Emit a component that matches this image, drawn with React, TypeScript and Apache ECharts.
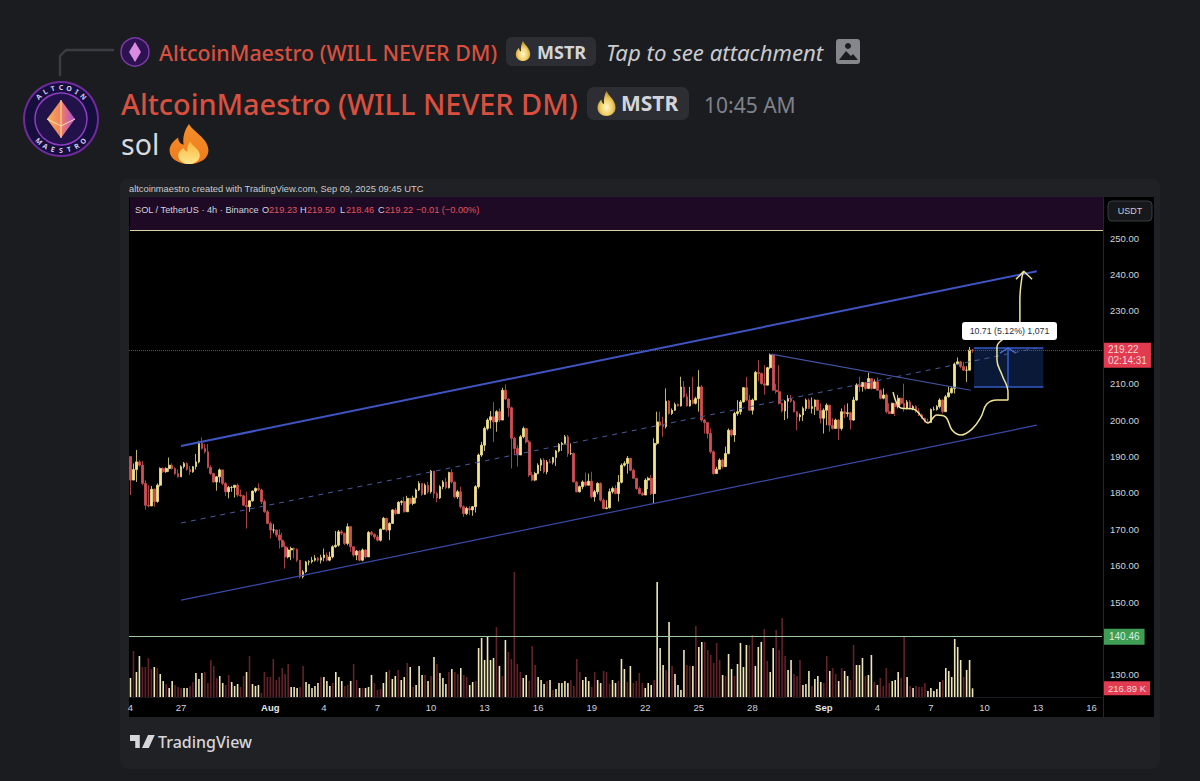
import React, { useEffect, useRef } from "react";
import * as echarts from "echarts";

// Closes (USDT), 4h candles, first candle Jul 24 04:00
const closes = [183.5,186.4,188.5,187.6,182.6,176.6,176.4,181,177.6,182.1,186.7,185.8,186.7,187.6,186.7,185.3,184.4,187.2,188.1,186.4,185.8,187.2,188.5,193.6,192.2,191.3,187,185.3,183,184.4,186.3,182.6,180.3,181.5,181.5,182.1,179.4,179.2,176.6,176.2,177.8,180.5,181.2,180.8,177.6,174.8,171.6,169.8,169.8,168.4,167,165.2,162.4,164.3,164.7,164.5,161.5,157,158.3,161,
161.1,161.5,162,161.5,162.2,162.9,161.5,162.4,165.2,165.6,169.3,168.9,166.1,170.7,165.2,162.9,164,161.5,164.3,162.4,169.1,168.6,167.9,167,170,173,169.8,171.6,175.3,174.3,177.4,177.6,174.8,178.5,177.1,178.6,180.8,182.6,179.6,182.1,180.3,186,179.8,178.6,181.7,183,181.4,185.6,183,178.9,180.3,176.2,174.3,175.7,175.3,176.2,181.7,190.4,193.1,197.7,
200,200.9,199.5,202.3,200,208.2,205.8,203.4,195,192.2,190.4,195.4,197.7,194,184.9,183.5,185.3,187.6,189,185.8,188.5,188.4,189.7,191.5,193.3,193.6,195.4,190.8,190.8,183,180.3,181.7,183,182.1,183.2,178.9,180.3,182.6,178,175.7,175.9,180.3,181.2,179.8,182.9,187.6,188.1,189.5,186.2,184,181.2,179.8,179.4,183.5,184,179.8,193.6,199.5,
198.6,198.2,205.2,201.8,202.7,204.3,203.9,209.1,206.4,203.9,205.5,204.6,205.9,209.1,200,199.3,196.3,191.3,185.3,186.5,189,187.2,190.8,197.2,195.9,201.8,202.3,205,208.9,205.5,202.7,205.5,213.1,212.8,210,209.6,214.4,217.9,208.2,207.8,204.6,202.5,205.2,205.9,205.2,202.3,200.9,201.4,203.2,205.5,203.2,
203.7,205.5,202.7,200.5,202.7,204.1,198.6,197.7,200,197.7,202.3,201.8,202,200,205.5,209.6,209.2,210.3,208.7,211.4,208.7,210.5,208.2,206,206.9,202.3,201.8,204.6,203.7,206,204.6,203.2,205,203.2,203.7,202.3,201.4,200.5,199.5,199.3,202.9,202.9,203.7,205.5,202.3,206.4,207.5,208.7,215.4,216,214.7,213.7,213.7,219.23,219.22];

const highs = [190,188.1,191.8,189,188.8,183.5,182.1,181.9,181.2,182.6,187,187,187,189.7,188.1,187,186.4,187.6,188.5,188.4,187.4,187.4,190.7,194.3,195.2,193.4,193.4,187.6,185.5,184.6,186.7,186.4,183,181.9,181.9,182.1,182.6,180.9,179.4,180.3,178,180.6,181.5,182.6,181.2,178.2,175.3,172.1,171.4,169.8,170,169,166.6,165,165.2,165,164.7,161.5,158.8,161.3,
161.5,162.4,162.9,162.4,163,164.7,163.6,163.8,165.6,169.5,169.8,169.8,169.1,171.6,170.9,165.2,164.3,164.3,164.7,164.5,169.5,169.5,168.9,168.4,170.2,173.4,173.2,171.9,175.5,175.9,177.7,178,178.9,179.2,178.6,179.2,181.2,183.2,182.3,182.6,183,186.3,185.8,180.3,182.1,183.5,184.1,185.8,186.5,183,180.8,181.7,176.6,176.2,176.4,176.4,182.1,190.8,194,198.2,
200.5,202.5,205,202.7,203.2,208.9,209.8,205.9,203.7,195.4,193.1,195.9,198.2,197.2,194.5,185.8,185.8,188.1,189.5,189.5,189,189.3,189.9,191.8,193.7,194,195.9,195.9,193.6,191.1,183.2,182,183.4,185.6,185.3,185.8,180.8,182.9,182.9,178.5,178,181.2,181.7,182.1,184.9,188.1,188.7,190.1,188.4,186.7,184,181.7,180.3,184,184.4,184.9,195,202.3,
202.3,200.9,208.7,205.5,203.2,204.8,204.6,211.9,210.7,207.3,209.1,211.9,206.4,213.7,209.6,200.3,199.3,197.7,191.7,187.2,189.5,189.3,192.7,197.7,197.5,202.3,205.5,205.5,209.1,211.9,206.9,205.9,213.5,216.5,213.1,215.1,214.6,218.3,218,210,215.1,204.8,205.5,206.9,206.9,205.5,202.5,201.8,203.7,205.9,205.9,
206.2,205.7,205.5,204.6,203.2,204.6,202.9,200.5,200.4,200.2,203.2,204.1,204.6,202.3,206.4,210.1,211.9,210.5,210.3,213,211.4,211.2,211.7,208.4,208.7,207.3,204.6,204.8,204.1,206.9,206.2,210,205.5,205.5,204.1,204.1,203.2,201.8,200.7,200.4,203.2,203.7,204.1,206,205.7,206.9,209.2,209.2,215.8,217.2,216.3,216,214.8,220.1,219.5];

const lows = [179.4,183.5,183,187.2,182.1,175.4,176,176.6,176.2,177.3,181.7,185.5,185.5,185.8,186.4,184.9,184.2,184.4,186.7,186.1,184.9,185.5,186.4,188.1,191.9,190.8,186.7,184.9,182.8,180.6,182.8,182.1,179.1,178.5,180.3,178.7,178.9,178.9,176.4,170.2,174.8,177.6,180,180.5,176.9,174.5,171.4,167.5,168.9,167.8,164.7,165,159.2,162,161.5,162,161,156.5,156.5,158,
160.1,160.6,161.1,161.1,160.6,161.2,161.2,161.2,162,164.9,165.2,168.4,165.6,165.6,163.8,162.4,161.5,161.2,161.2,162,162.4,168.2,167.3,166.6,166.6,169.8,169.3,167,171.6,173.9,174.3,176.6,174.6,174.8,176.6,176.6,177.1,180.5,179.2,179.4,179.8,179.8,178.5,177.4,178.3,181,181,181.2,182.6,178.5,178.3,175.7,173.4,173.9,173.9,173.7,174.6,181.2,189.9,191.5,
197.2,197.7,194,196.8,199.5,200.9,205.5,200.9,186.7,190.4,187.2,192,195,193.6,184.4,183.2,183.2,185.1,186,185.3,185.1,188.1,187.8,187.4,191.1,191.5,193.3,189.9,190.4,182.9,180.1,180.1,181,181.7,182,178.5,177.6,179.6,177.6,175.5,175.5,175.7,179.8,179.6,177.6,182.6,187.2,185.3,186,183.8,180.8,179.6,179.2,179.6,181,179.4,177.1,193.1,
198.2,195.4,197.7,201.5,201.4,202.5,203.7,203.7,206.1,203.7,203.7,204.3,204.3,202.3,199.5,196.3,195,190.8,185,186.2,186.5,186.7,187.2,190.6,195.4,194,201.2,201.5,204.8,205.2,202.5,201.5,207.8,210.7,209.8,207,209.8,214,208,207.3,204.3,202.1,200,200.4,204.8,202.1,197.2,199.7,199.7,202.5,203,
201.8,201.4,202.6,199.1,196.3,198.6,196.8,197.4,197.7,194.5,197.1,200.5,200.9,197.4,199.8,205.3,207.8,207.8,208.2,208.5,208.4,208.5,208.1,205.7,205.7,201.8,201.6,201.8,201.1,203.2,204.1,202.3,202.9,202.9,202.7,202,201.1,200.2,199.3,199.1,199.3,202.6,202.6,203.2,201.8,202.3,206.2,207.3,207.3,215.1,214.2,213.5,210.5,213.7,218.46];

const firstOpen = 190;

// Volume in thousands; a negative number marks a down bar
const signedVolumes = [475,-1150,625,1025,-750,-750,-975,-700,750,-725,575,400,-325,225,400,-300,-250,-225,225,225,-275,-375,600,450,600,-625,-350,-925,-775,-475,525,350,-300,-550,375,275,325,-250,-525,625,-1025,325,275,300,-100,-625,-500,-500,-950,-425,-500,-725,-575,-825,250,250,225,-250,-775,375,325,225,275,350,-500,500,400,275,-350,625,500,400,-275,-300,400,-825,-425,225,-225,225,250,550,-350,-175,-200,350,625,-675,450,525,-675,425,500,-850,750,-250,300,775,550,-550,400,-525,1000,-825,600,475,325,-625,700,-625,-575,725,-550,-500,300,375,-400,1225,1475,925,1525,925,975,-1750,775,-525,1425,-1125,-950,-3125,-825,-625,475,550,-400,-1275,-800,500,425,325,-400,425,-175,200,
350,350,400,350,-425,-275,-950,-625,425,500,400,-250,-625,425,350,-650,-625,-325,425,350,-400,950,700,-375,775,-350,-400,-600,-350,225,350,300,-425,2875,1225,800,-675,1875,-775,575,300,175,1175,-800,-775,775,-1775,1250,1375,-1375,-1175,-1050,-850,-1350,-925,550,-525,1075,700,-525,825,1350,750,1300,-1300,-1550,775,1250,1375,-1700,-900,625,1225,-1675,-1175,-1975,-1025,675,925,-575,-525,-925,300,325,650,-275,450,525,375,-350,-1025,650,-725,-575,400,-725,650,525,-425,-1300,800,800,975,-525,550,1050,-375,300,-475,-275,-725,-350,400,425,625,-475,-1500,500,-275,225,-275,-250,-250,-350,150,225,150,200,375,-425,725,650,500,1450,1250,925,-500,675,925,217];

const priceTicks = [130,150,160,170,180,190,200,210,230,240,250];
const dateLabels: Record<number,string> = {0:"4",17:"27",47:"Aug",65:"4",83:"7",101:"10",119:"13",137:"16",155:"19",173:"22",191:"25",209:"28",233:"Sep",251:"4",269:"7",287:"10",305:"13",323:"16"};
const categories = Array.from({length:327},(_,i)=>String(i));

// Drawings, as [candle index, price]
const channelUpper = [[17,192.9],[304.6,240.9]];
const channelLower = [[17,150.5],[304.6,198.6]];
const channelMiddle = [[17,171.7],[304.6,219.8]];
const downtrend = [[215.3,218.1],[282.4,208.2]];
const handCurve = [[256.3,207.7],[258.9,203.3],[263.3,203],[266,200.8],[268,199.2],[271,201.4],[274,200.8],[276.1,197.3],[279.1,195.9],[282.8,197.5],[285.8,200.8],[287.8,204.4],[291.2,205.5],[294.9,205.5],[294.9,207.7],[292.9,212.4],[291.2,216.5],[291.2,220.1],[293.5,222.5],[298.9,226.9],[298.9,233],[299.6,239.3],[300.2,240.9]];
const handArrow = [[297.6,238.7],[300.2,240.9],[303,238.7]];
const measureTop = 219.81, measureBottom = 209.1, measureLeft = 283.5, measureRight = 306.8, measureMid = 294.9;
const measureArrow = [[292.2,218.4],[measureMid,219.81],[297.6,218.4]];
const lastPrice = 219.22, alertPrice = 140.46, lastVolume = 216.89;

const FLAME = "M50 0C58 20 86 36 86 66C86 88 68 100 50 100C32 100 14 88 14 66C14 52 22 42 30 34C30 44 34 50 40 52C38 32 42 14 50 0Z";
const FLAME_IN = "M52 44C58 58 70 64 70 78C70 92 60 100 50 100C40 100 30 92 30 78C30 70 36 64 40 60C42 66 44 68 47 69C46 60 48 52 52 44Z";
const TV = "M0 0H13V13H7V6H0ZM24 0H33L25 13H16Z";
echarts.graphic.registerShape("flameOuter", echarts.graphic.extendPath(FLAME, {}));
echarts.graphic.registerShape("flameInner", echarts.graphic.extendPath(FLAME_IN, {}));
echarts.graphic.registerShape("tvMark", echarts.graphic.extendPath(TV, {}));

const FONT = "'Noto Sans', sans-serif";
const TVF = "'Liberation Sans', sans-serif";
const UP = "#f3e48e", DOWN = "#cf5156";

const gold = () => new echarts.graphic.RadialGradient(0.5,0.65,0.6,[{offset:0,color:"#fff6d0"},{offset:0.5,color:"#f4d36a"},{offset:1,color:"#b9902f"}]);
const fire = () => new echarts.graphic.LinearGradient(0,0,0,1,[{offset:0,color:"#f2902c"},{offset:1,color:"#f07a1c"}]);
const fireIn = () => new echarts.graphic.LinearGradient(0,0,0,1,[{offset:0,color:"#f9b640"},{offset:1,color:"#fde68a"}]);

function txt(x:number,y:number,text:string,fontSize:number,fill:string,extra:any={}){
  return {type:"text",x,y,z:extra.z??3,style:{text,fontSize,fill,fontFamily:FONT,textVerticalAlign:"middle",verticalAlign:"middle",...extra}};
}
function rect(x:number,y:number,width:number,height:number,fill:string,r=0,z=1,extra:any={}){
  return {type:"rect",z,shape:{x,y,width,height,r},style:{fill,...extra}};
}

function avatarLetters(cx:number,cy:number,rad:number,word:string,startDeg:number,stepDeg:number,flip:boolean){
  return word.split("").map((ch,i)=>{
    const a=(startDeg+i*stepDeg)*Math.PI/180;
    return {type:"text",z:5,x:cx+rad*Math.cos(a),y:cy+rad*Math.sin(a),rotation:-(a+(flip?-Math.PI/2:Math.PI/2)),
      style:{text:ch,fontSize:7,fontWeight:700,fill:"#d9c6ee",fontFamily:FONT,align:"center",verticalAlign:"middle"}};
  });
}

const chrome:any[] = [
  rect(0,0,1200,781,"#1b1c20",0,0),
  // reply connector
  {type:"polyline",z:1,shape:{points:[[60,76],[60,56],[66,50],[114,50]]},style:{stroke:"#3b3d43",lineWidth:2.4,fill:"none"}},
  {type:"circle",z:2,shape:{cx:135,cy:52,r:14},style:{fill:"#2c1250",stroke:"#7c3aa8",lineWidth:1.5}},
  {type:"polygon",z:3,shape:{points:[[135,42],[141,52],[135,62],[129,52]]},style:{fill:"#d88be0"}},
  txt(159,52,"AltcoinMaestro (WILL NEVER DM)",21.4,"#d9503f",{fontWeight:500}),
  rect(506,37,90,29,"#2c2e34",6,1),
  {type:"flameOuter",z:3,x:513,y:41,scaleX:0.2,scaleY:0.2,style:{fill:gold()}},
  txt(537,52,"MSTR",18,"#d4d5d9",{fontWeight:700}),
  txt(606,52,"Tap to see attachment",22.2,"#c9cace",{fontStyle:"italic"}),
  rect(836,39,24,25,"#85878d",3,2),
  {type:"circle",z:3,shape:{cx:848,cy:46,r:3},style:{fill:"#1b1c20"}},
  {type:"polygon",z:3,shape:{points:[[839,60],[846,51],[851,56],[853,54],[858,60]]},style:{fill:"#1b1c20"}},
  // large avatar
  {type:"circle",z:2,shape:{cx:61,cy:119,r:37},style:{fill:"#160f3e",stroke:"#6f2a9c",lineWidth:2}},
  {type:"circle",z:3,shape:{cx:61,cy:119,r:26},style:{fill:"#21124a",stroke:"#8f3cc0",lineWidth:1.5}},
  {type:"polygon",z:4,shape:{points:[[61,100],[75,119],[61,138],[47,119]]},style:{fill:new echarts.graphic.LinearGradient(0,0,1,0,[{offset:0,color:"#f6b25a"},{offset:0.5,color:"#ef7f5c"},{offset:1,color:"#b04be0"}])}},
  {type:"polyline",z:5,shape:{points:[[47,119],[61,126],[75,119]]},style:{stroke:"#fbe2b0",lineWidth:1,fill:"none"}},
  {type:"line",z:5,shape:{x1:61,y1:100,x2:61,y2:138},style:{stroke:"#fbe2b0",lineWidth:1}},
  ...avatarLetters(61,119,31.5,"ALTCOIN",-135,15,false),
  ...avatarLetters(61,119,31.5,"MAESTRO",135,-15,true),
  txt(121,103,"AltcoinMaestro (WILL NEVER DM)",28.9,"#d9503f",{fontWeight:500}),
  rect(587,87,102,33,"#2c2e34",7,1),
  {type:"flameOuter",z:3,x:594,y:91,scaleX:0.25,scaleY:0.25,style:{fill:gold()}},
  txt(621,103,"MSTR",21,"#d4d5d9",{fontWeight:700}),
  txt(704,105,"10:45 AM",21,"#7f828a"),
  txt(121,144,"sol",28.5,"#d9dade"),
  {type:"flameOuter",z:3,x:162,y:124,scaleX:0.54,scaleY:0.4,style:{fill:fire()}},
  {type:"flameInner",z:4,x:162,y:124,scaleX:0.54,scaleY:0.4,style:{fill:fireIn()}},
  // attachment frame
  rect(120,179,1040,590,"#202124",8,1),
  txt(129,189,"altcoinmaestro created with TradingView.com, Sep 09, 2025 09:45 UTC",9.3,"#c9cbd0",{fontFamily:TVF}),
  rect(129,197,1025,520,"#000000",0,1),
  rect(130,197,973,33,"#1f0a26",0,1),
  rect(130,230,973,1,"#d9d2a8",0,1),
  rect(1103,197,1,520,"#23262e",0,2),
  rect(1108,201,44,20,"#17181b",4,3,{stroke:"#3a3c42",lineWidth:1}),
  txt(1130,211,"USDT",9,"#c8cad0",{align:"center",fontFamily:TVF}),
  txt(135,210,"SOL / TetherUS · 4h · Binance",9.2,"#d1d4dc",{fontFamily:TVF}),
  txt(262,210,"O",9.2,"#d1d4dc",{fontFamily:TVF}),txt(269,210,"219.23",9.2,"#e0545c",{fontFamily:TVF}),
  txt(300,210,"H",9.2,"#d1d4dc",{fontFamily:TVF}),txt(307,210,"219.50",9.2,"#e0545c",{fontFamily:TVF}),
  txt(340,210,"L",9.2,"#d1d4dc",{fontFamily:TVF}),txt(346,210,"218.46",9.2,"#e0545c",{fontFamily:TVF}),
  txt(378,210,"C",9.2,"#d1d4dc",{fontFamily:TVF}),txt(385,210,"219.22",9.2,"#e0545c",{fontFamily:TVF}),
  txt(416,210,"−0.01 (−0.00%)",9.2,"#e0545c",{fontFamily:TVF}),
  {type:"rect",z:100,shape:{x:962,y:322,width:95,height:18,r:3},style:{fill:"#ffffff"}},
  txt(1009.5,331,"10.71 (5.12%) 1,071",8.8,"#2a2e39",{align:"center",fontFamily:TVF,z:101}),
  // TradingView footer
  {type:"tvMark",z:3,x:130,y:735,scaleX:0.75,scaleY:1,style:{fill:"#d6d7da"}},
  txt(158,741.5,"TradingView",16,"#d6d7da",{fontWeight:500}),
];

const drawing = (name:string,data:number[][],color:string,width:number,extra:any={})=>({
  type:"line",name,xAxisIndex:1,yAxisIndex:0,data,showSymbol:false,symbol:"none",silent:true,z:extra.z??5,
  lineStyle:{color,width,type:extra.type??"solid"},smooth:extra.smooth??false,
});

function App(){
  const ref = useRef<HTMLDivElement>(null);
  useEffect(()=>{
    const chart = echarts.init(ref.current!,undefined,{renderer:"svg"});
    const candles = closes.map((c,i)=>{
      const o = i===0?firstOpen:closes[i-1];
      return [o,c,Math.min(lows[i],o,c),Math.max(highs[i],o,c)];
    });
    chart.setOption({
      animation:false,
      backgroundColor:"transparent",
      graphic:chrome,
      grid:[
        {left:129,top:197,width:973,height:500},
        {left:129,top:570,width:973,height:127},
      ],
      xAxis:[
        {type:"category",gridIndex:0,data:categories,show:false},
        {type:"value",gridIndex:0,min:-0.5,max:326.5,show:false,position:"top"},
        {type:"category",gridIndex:1,data:categories,position:"bottom",z:10,
          axisLine:{lineStyle:{color:"#1a1c22"}},axisTick:{show:false},
          axisLabel:{interval:(i:number)=>dateLabels[i]!==undefined,formatter:(_:string,i:number)=>{
            const t=dateLabels[i]; return t==="Aug"||t==="Sep"?`{b|${t}}`:t;},
            color:"#d1d4dc",fontSize:9.5,fontFamily:TVF,margin:5,rich:{b:{fontWeight:700,fontSize:9.5,color:"#e6e7ea",fontFamily:TVF}}}},
      ],
      yAxis:[
        {type:"value",gridIndex:0,min:123.9,max:261.3,position:"right",splitLine:{show:false},z:10,
          axisLine:{show:false},axisTick:{show:false},
          axisLabel:{customValues:priceTicks,formatter:(v:number)=>v.toFixed(2),color:"#d1d4dc",fontSize:9.5,fontFamily:TVF,margin:8}},
        {type:"value",gridIndex:1,min:0,max:3175,show:false},
      ],
      series:[
        {type:"bar",name:"Volume",xAxisIndex:2,yAxisIndex:1,barWidth:1.6,silent:true,z:2,
          data:signedVolumes.map(v=>({value:Math.abs(v),itemStyle:{color:v>0?"#efe7b8":"#63222a"}})),
          markLine:{silent:true,symbol:"none",animation:false,precision:2,
            data:[{yAxis:lastVolume,lineStyle:{color:"transparent"},label:{show:true,position:"end",distance:2,formatter:"216.89 K",color:"#f5d6da",backgroundColor:"#e23b50",padding:[2,4],fontSize:9.5,fontFamily:TVF}}]}},
        {type:"candlestick",name:"SOL / TetherUS",xAxisIndex:0,yAxisIndex:0,barWidth:2.2,silent:true,z:3,
          itemStyle:{color:UP,color0:DOWN,borderColor:UP,borderColor0:DOWN,borderWidth:0.8},
          data:candles,
          markLine:{silent:true,symbol:"none",animation:false,
            data:[
              {yAxis:lastPrice,lineStyle:{color:"#7a4444",width:1,type:"dotted"},label:{show:true,position:"end",distance:2,offset:[0,5],formatter:"219.22\n02:14:31",color:"#f7d5d9",backgroundColor:"#e23b50",padding:[2,4],lineHeight:10.5,fontSize:10,fontFamily:TVF,align:"left"}},
              {yAxis:alertPrice,lineStyle:{color:"#9fc89e",width:1,type:"solid"},label:{show:true,position:"end",distance:2,formatter:"140.46",color:"#d9f1dc",backgroundColor:"#3f9d55",padding:[3,5],fontSize:10,fontFamily:TVF}},
            ]}},
        {type:"line",name:"Position",xAxisIndex:1,yAxisIndex:0,data:[],silent:true,z:4,
          markArea:{silent:true,itemStyle:{color:"rgba(24,60,130,0.42)"},data:[[{coord:[measureLeft,measureTop]},{coord:[measureRight,measureBottom]}]]},
          markLine:{silent:true,symbol:"none",label:{show:false},lineStyle:{color:"#3458c4",width:1.6,type:"solid"},
            data:[
              [{coord:[measureLeft,measureTop]},{coord:[measureRight,measureTop]}],
              [{coord:[measureLeft,measureBottom]},{coord:[measureRight,measureBottom]}],
              [{coord:[measureMid,measureBottom]},{coord:[measureMid,measureTop]}],
            ]}},
        drawing("Measure arrow",measureArrow,"#4b6fd8",1.3),
        drawing("Channel upper",channelUpper,"#3f55c4",2),
        drawing("Channel lower",channelLower,"#3a4aa6",1.2),
        drawing("Channel middle",channelMiddle,"#4a5b9c",1,{type:[5,5]}),
        drawing("Downtrend",downtrend,"#42549f",1.2),
        drawing("Hand curve",handCurve,"#efe59a",1.5,{smooth:0.4,z:6}),
        drawing("Hand arrow",handArrow,"#efe59a",1.5,{z:6}),
      ],
    });
    return ()=>chart.dispose();
  },[]);
  return <div ref={ref} style={{position:"absolute",left:0,top:0,width:1200,height:781}}/>;
}
export default App;
